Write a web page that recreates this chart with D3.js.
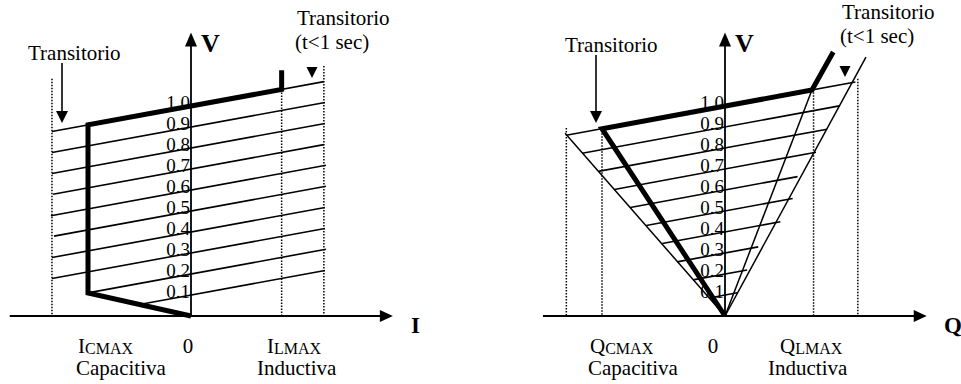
<!DOCTYPE html>
<html>
<head>
<meta charset="utf-8">
<script src="https://cdn.jsdelivr.net/npm/d3@7"></script>
<style>
  body { margin: 0; background: #fff; }
  text { font-family: "Liberation Serif", "Times New Roman", serif; fill: #000; }
</style>
</head>
<body>
<div id="chart"></div>
<script>
const width = 961;
const height = 384;

// voltage levels of the characteristic lines
const levels = [1.0, 0.9, 0.8, 0.7, 0.6, 0.5, 0.4, 0.3, 0.2, 0.1];
const levelLabels = ["1.0", "0.9", "0.8", "0.7", "0.6", "0.5", "0.4", "0.3", "0.2", "0.1"];

// left panel: V - I  (current in units of ICMAX)
const iSlope = 0.09;
const iStart = [-1.35, -1.35, -1.35, -1.34, -1.36, -1.33, -1.35, -1.35, -1.0, -0.46];
const iEnd = [1.29, 1.30, 1.30, 1.29, 1.31, 1.31, 1.30, 1.30, 1.31, 1.30];
const iThick = [[0.88, 1.17], [0.88, 1.079], [-1, 0.91], [-1, 0.11], [0, 0]];
const iDotted = [[-1.35, 1.13], [0.88, 1.079], [1.29, 1.19]];

// right panel: V - Q  (reactive power in units of QCMAX)
const qSlope = 0.108;
const qStart = [-1.29, -1.16, -1.03, -0.90, -0.77, -0.64, -0.51, -0.39, -0.26, -0.13];
const qEnd = [1.06, 0.93, 0.83, 0.74, 0.59, 0.55, 0.45, 0.27, 0.18, 0.10];
const qThick = [[0.88, 1.257], [0.707, 1.076], [-1, 0.892], [0, 0]];
const qCones = [
  [[-1.30, 0.87], [0, 0]],
  [[0, 0], [0.707, 1.076]],
  [[0, 0], [1.146, 1.233]]
];
const qDotted = [[-1.29, 0.895], [-1, 0.87], [0.72, 1.08], [1.08, 1.13]];

const svg = d3.select("#chart")
  .append("svg")
  .attr("width", width)
  .attr("height", height);

const yScale = d3.scaleLinear().domain([0, 1]).range([316, 106]);

const drawPanel = (p) => {
  const x = p.x;
  const g = svg.append("g");
  const line = d3.line().x(d => x(d[0])).y(d => yScale(d[1]));

  // dotted limits
  g.selectAll("line.dot")
    .data(p.dotted)
    .join("line")
    .attr("class", "dot")
    .attr("x1", d => x(d[0])).attr("x2", d => x(d[0]))
    .attr("y1", d => yScale(d[1])).attr("y2", yScale(0))
    .attr("stroke", "#000")
    .attr("stroke-width", 1.5)
    .attr("stroke-dasharray", "1.5,1.5");

  // constant-voltage characteristic lines
  g.selectAll("path.lvl")
    .data(levels)
    .join("path")
    .attr("class", "lvl")
    .attr("d", (v, i) => line([[p.start[i], v + p.slope * p.start[i]], [p.end[i], v + p.slope * p.end[i]]]))
    .attr("fill", "none")
    .attr("stroke", "#000")
    .attr("stroke-width", 1.6);

  // extra thin lines (cones)
  g.selectAll("path.cone")
    .data(p.cones)
    .join("path")
    .attr("class", "cone")
    .attr("d", line)
    .attr("fill", "none")
    .attr("stroke", "#000")
    .attr("stroke-width", 1.5);

  // operating characteristic
  g.append("path")
    .attr("d", line(p.thick))
    .attr("fill", "none")
    .attr("stroke", "#000")
    .attr("stroke-width", 5)
    .attr("stroke-linejoin", "miter");

  // axes
  const x0 = x(0), y0 = yScale(0);
  const xTip = x(p.axisMax), yTip = yScale(1.35);
  g.append("line")
    .attr("x1", x(p.axisMin)).attr("x2", xTip - 4)
    .attr("y1", y0).attr("y2", y0)
    .attr("stroke", "#000").attr("stroke-width", 1.8);
  g.append("path")
    .attr("d", `M${xTip},${y0} L${xTip - 13},${y0 - 6} L${xTip - 13},${y0 + 6} Z`)
    .attr("fill", "#000");
  g.append("line")
    .attr("x1", x0).attr("x2", x0)
    .attr("y1", y0).attr("y2", yTip + 4)
    .attr("stroke", "#000").attr("stroke-width", 1.8);
  g.append("path")
    .attr("d", `M${x0},${yTip} L${x0 - 6},${yTip + 14} L${x0 + 6},${yTip + 14} Z`)
    .attr("fill", "#000");

  // level labels
  g.selectAll("text.lbl")
    .data(levels)
    .join("text")
    .attr("class", "lbl")
    .attr("x", x0 - 1)
    .attr("y", v => yScale(v) + 2.5)
    .attr("text-anchor", "end")
    .attr("font-size", "19px")
    .text((v, i) => levelLabels[i]);

  // axis names
  g.append("text").attr("x", x0 + 10).attr("y", 52)
    .attr("font-size", "26px").attr("font-weight", "bold").text("V");
  g.append("text").attr("x", p.axisNameX).attr("y", 333)
    .attr("font-size", "23px").attr("font-weight", "bold").text(p.axisName);

  // bottom labels
  const sub = (tx, ty, main, s) => {
    const t = g.append("text").attr("x", tx).attr("y", ty).attr("font-size", "21px");
    t.append("tspan").text(main);
    t.append("tspan").attr("font-size", "16px").attr("dy", 1).text(s);
  };
  sub(p.cmaxX, 353, p.axisName, "CMAX");
  sub(p.lmaxX, 353, p.axisName, "LMAX");
  g.append("text").attr("x", p.zeroX).attr("y", 353).attr("text-anchor", "middle")
    .attr("font-size", "21px").text("0");
  g.append("text").attr("x", p.capX).attr("y", 375).attr("font-size", "21px").text("Capacitiva");
  g.append("text").attr("x", p.indX).attr("y", 375).attr("font-size", "21px").text("Inductiva");

  // transient annotations
  g.append("text").attr("x", p.tr1X).attr("y", p.tr1Y).attr("font-size", "21px").text("Transitorio");
  const ax = p.arrowX;
  g.append("line").attr("x1", ax).attr("x2", ax).attr("y1", p.tr1Y + 3).attr("y2", 114)
    .attr("stroke", "#000").attr("stroke-width", 1.6);
  g.append("path").attr("d", `M${ax},123 L${ax - 6},111 L${ax + 6},111 Z`).attr("fill", "#000");

  g.append("text").attr("x", p.tr2X).attr("y", p.tr2Y).attr("font-size", "21px").text("Transitorio");
  g.append("text").attr("x", p.tr2X - 2).attr("y", p.tr2Y + 24).attr("font-size", "21px").text("(t<1 sec)");
  const sx = p.smallX;
  g.append("path").attr("d", `M${sx},${p.smallY + 11} L${sx - 5.5},${p.smallY} L${sx + 5.5},${p.smallY} Z`)
    .attr("fill", "#000");
};

drawPanel({
  x: d3.scaleLinear().domain([-1, 0]).range([88, 191]),
  slope: iSlope, start: iStart, end: iEnd,
  thick: iThick, dotted: iDotted, cones: [],
  axisMin: -1.76, axisMax: 1.96, axisName: "I", axisNameX: 411,
  cmaxX: 78, lmaxX: 267, zeroX: 188, capX: 76, indX: 257,
  tr1X: 28, tr1Y: 60, arrowX: 62,
  tr2X: 297, tr2Y: 25, smallX: 312, smallY: 67
});

drawPanel({
  x: d3.scaleLinear().domain([-1, 0]).range([602, 725]),
  slope: qSlope, start: qStart, end: qEnd,
  thick: qThick, dotted: qDotted, cones: qCones,
  axisMin: -1.48, axisMax: 1.64, axisName: "Q", axisNameX: 944,
  cmaxX: 590, lmaxX: 780, zeroX: 713, capX: 588, indX: 768,
  tr1X: 565, tr1Y: 52, arrowX: 596,
  tr2X: 842, tr2Y: 19, smallX: 845, smallY: 66
});
</script>
</body>
</html>
